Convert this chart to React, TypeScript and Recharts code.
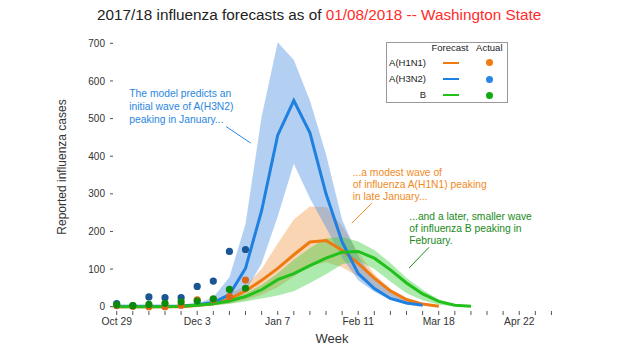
import { ComposedChart, Area, Line, XAxis, YAxis, ReferenceLine } from 'recharts'

// weeks since Oct 29, 2017
const weeks = [0, 1, 2, 3, 4, 5, 6, 7, 8, 9, 10, 11, 12, 13, 14, 15, 16, 17, 18, 19, 20, 21, 22]
const tickWeeks = [0, 1, 2, 3, 4, 5, 6, 7, 8, 9, 10, 11, 12, 13, 14, 15, 16, 17, 18, 19, 20, 21, 22, 23, 24, 25, 26, 27]
const tickLabels = [
  'Oct 29', '', '', '', '', 'Dec 3', '', '', '', '', 'Jan 7', '', '', '', '',
  'Feb 11', '', '', '', '', 'Mar 18', '', '', '', '', 'Apr 22', '', '',
]
const yTicks = [0, 100, 200, 300, 400, 500, 600, 700]

// observed counts
const h1Actual = [3, 1, 0, 0, 4, 18, 19, 27, 71]
const h3Actual = [8, 3, 26, 24, 24, 54, 68, 147, 152]
const bActual = [5, 3, 6, 9, 13, 15, 21, 46, 49]

// forecasts: median + interval
const h1Mid = [0, 0, 0, 0, 0, 3, 8, 20, 42, 70, 102, 138, 172, 176, 150, 115, 76, 42, 19, 7, 1]
const h1Lo = [0, 0, 0, 0, 0, 1, 3, 8, 18, 32, 52, 80, 108, 118, 105, 80, 52, 28, 11, 3, 0]
const h1Hi = [0, 0, 0, 0, 1, 6, 15, 35, 55, 100, 168, 232, 266, 265, 215, 145, 87, 47, 16, 5, 1]

const h3Mid = [1, 1, 1, 1, 2, 5, 11, 32, 102, 255, 456, 548, 462, 300, 172, 88, 48, 22, 10, 4]
const h3Lo = [0, 0, 0, 0, 0, 1, 4, 12, 40, 115, 240, 380, 288, 210, 130, 70, 40, 18, 6, 2]
const h3Hi = [0, 0, 0, 0, 2, 8, 25, 78, 220, 505, 703, 656, 548, 405, 231, 134, 72, 37, 15, 6]

const bMid = [0, 0, 0, 0, 1, 4, 8, 15, 27, 45, 72, 88, 109, 129, 145, 147, 129, 98, 63, 34, 14, 4, 1]
const bLo = [0, 0, 0, 0, 0, 2, 4, 8, 14, 22, 30, 41, 63, 86, 113, 122, 100, 67, 36, 17, 5, 1, 0]
const bHi = [0, 0, 0, 1, 2, 6, 12, 20, 36, 58, 89, 125, 156, 182, 185, 173, 151, 116, 76, 45, 19, 5, 1]

const band = (lo: number[], hi: number[], i: number) =>
  lo[i] != null && hi[i] != null ? [lo[i], hi[i]] : null

const data = weeks.map((week, i) => ({
  week,
  h1: h1Mid[i] ?? null,
  h1Band: band(h1Lo, h1Hi, i),
  h1Actual: h1Actual[i] ?? null,
  h3: h3Mid[i] ?? null,
  h3Band: band(h3Lo, h3Hi, i),
  h3Actual: h3Actual[i] ?? null,
  b: bMid[i] ?? null,
  bBand: band(bLo, bHi, i),
  bActual: bActual[i] ?? null,
}))

const FONT = "'Liberation Sans', Arial, sans-serif"

const C = {
  h1: '#f07a10',
  h3: '#2080e0',
  b: '#22c01a',
  h1Dot: '#dc6618',
  h3Dot: '#1b5596',
  bDot: '#0a8c0a',
  h1Text: '#f08a24',
  h3Text: '#2a86e0',
  bText: '#1a8a1a',
}

const legendRows = [
  { label: 'A(H1N1)', line: C.h1, dot: '#f07a10', y: 62.7 },
  { label: 'A(H3N2)', line: C.h3, dot: '#2a85e5', y: 79 },
  { label: 'B', line: C.b, dot: '#12aa12', y: 95 },
]

function Note({ lines, left, top, lh, color }: { lines: string[]; left: number; top: number; lh: number; color: string }) {
  return (
    <div style={{ position: 'absolute', left, top, color, fontSize: 10.3, lineHeight: `${lh}px`, whiteSpace: 'nowrap' }}>
      {lines.map((l, i) => (
        <div key={i}>{l}</div>
      ))}
    </div>
  )
}

export default function App() {
  const center = { position: 'absolute' as const, transform: 'translate(-50%, -50%)', lineHeight: 1, whiteSpace: 'nowrap' as const }
  return (
    <div style={{ position: 'absolute', left: 0, top: 0, width: 620, height: 350, background: '#fff', fontFamily: FONT }}>
      <ComposedChart
        width={620}
        height={350}
        data={data}
        margin={{ top: 35.8, right: 57.3, bottom: 0, left: 0 }}
      >
        <XAxis
          dataKey="week"
          type="number"
          domain={[-0.23, 27.7]}
          allowDataOverflow
          ticks={tickWeeks}
          interval={0}
          tickFormatter={(v: number) => tickLabels[v] ?? ''}
          axisLine={false}
          tickLine={{ stroke: '#555' }}
          tickSize={4}
          tickMargin={3}
          height={39}
          tick={{ fontSize: 10.3, fill: '#333', fontFamily: FONT }}
        />
        <YAxis
          type="number"
          domain={[-11.4, 720]}
          allowDataOverflow
          ticks={yTicks}
          interval={0}
          axisLine={false}
          tickLine={{ stroke: '#555' }}
          tickSize={3}
          tickMargin={5}
          width={113}
          tick={{ fontSize: 10, fill: '#333', fontFamily: FONT }}
        />

        <Area type="linear" dataKey="h1Band" stroke="none" fill="#f39c4a" fillOpacity={0.42} isAnimationActive={false} />
        <Line type="linear" dataKey="h1" stroke={C.h1} strokeWidth={3} dot={false} activeDot={false} isAnimationActive={false} />
        <Area type="linear" dataKey="h3Band" stroke="none" fill="#4a90e2" fillOpacity={0.42} isAnimationActive={false} />
        <Line type="linear" dataKey="h3" stroke={C.h3} strokeWidth={3} dot={false} activeDot={false} isAnimationActive={false} />
        <Area type="linear" dataKey="bBand" stroke="none" fill="#3ccc3c" fillOpacity={0.42} isAnimationActive={false} />
        <Line type="linear" dataKey="b" stroke={C.b} strokeWidth={3} dot={false} activeDot={false} isAnimationActive={false} />

        <Line dataKey="h3Actual" stroke="none" dot={{ r: 3.6, fill: C.h3Dot, stroke: 'none' }} activeDot={false} isAnimationActive={false} />
        <Line dataKey="h1Actual" stroke="none" dot={{ r: 3.6, fill: C.h1Dot, stroke: 'none' }} activeDot={false} isAnimationActive={false} />
        <Line dataKey="bActual" stroke="none" dot={{ r: 3.6, fill: C.bDot, stroke: 'none' }} activeDot={false} isAnimationActive={false} />

        <ReferenceLine segment={[{ x: 6.79, y: 479 }, { x: 8.32, y: 435 }]} stroke={C.h3Text} strokeWidth={1} />
        <ReferenceLine segment={[{ x: 15.84, y: 275 }, { x: 14.6, y: 222 }]} stroke={C.h1Text} strokeWidth={1} />
        <ReferenceLine segment={[{ x: 19.4, y: 158 }, { x: 18.16, y: 103 }]} stroke={C.bText} strokeWidth={1} />
      </ComposedChart>

      {/* title */}
      <div style={{ position: 'absolute', left: 97, top: 6.6, fontSize: 15.3, lineHeight: '15px', whiteSpace: 'nowrap', color: '#222' }}>
        2017/18 influenza forecasts as of <span style={{ color: '#ff2a2a' }}>01/08/2018 -- Washington State</span>
      </div>

      {/* axis titles */}
      <div style={{ ...center, left: 62, top: 167, fontSize: 12, color: '#333', transform: 'translate(-50%, -50%) rotate(-90deg)' }}>
        Reported influenza cases
      </div>
      <div style={{ ...center, left: 332, top: 338, fontSize: 13, color: '#333' }}>Week</div>

      {/* annotations */}
      <Note lines={['The model predicts an', 'initial wave of A(H3N2)', 'peaking in January...']} left={129.3} top={86.6} lh={13.3} color={C.h3Text} />
      <Note lines={['...a modest wave of', 'of influenza A(H1N1) peaking', 'in late January...']} left={352.7} top={167.3} lh={12} color={C.h1Text} />
      <Note lines={['...and a later, smaller wave', 'of influenza B peaking in', 'February.']} left={409.3} top={210.6} lh={12.2} color={C.bText} />

      {/* legend */}
      <div style={{ position: 'absolute', left: 386, top: 41.7, width: 122.3, height: 61.3, boxSizing: 'border-box', border: '1px solid #999' }} />
      <div style={{ ...center, left: 450, top: 48.3, fontSize: 9.5, color: '#222' }}>Forecast</div>
      <div style={{ ...center, left: 489.3, top: 48.3, fontSize: 9.5, color: '#222' }}>Actual</div>
      {legendRows.map((r) => (
        <div key={r.label}>
          <div style={{ ...center, left: 426, top: r.y, fontSize: 9.5, color: '#222', transform: 'translate(-100%, -50%)' }}>{r.label}</div>
          <div style={{ position: 'absolute', left: 443.3, top: r.y - 1, width: 16, height: 2, background: r.line }} />
          <div style={{ position: 'absolute', left: 489.3 - 3.5, top: r.y - 3.5, width: 7, height: 7, borderRadius: '50%', background: r.dot }} />
        </div>
      ))}
    </div>
  )
}
